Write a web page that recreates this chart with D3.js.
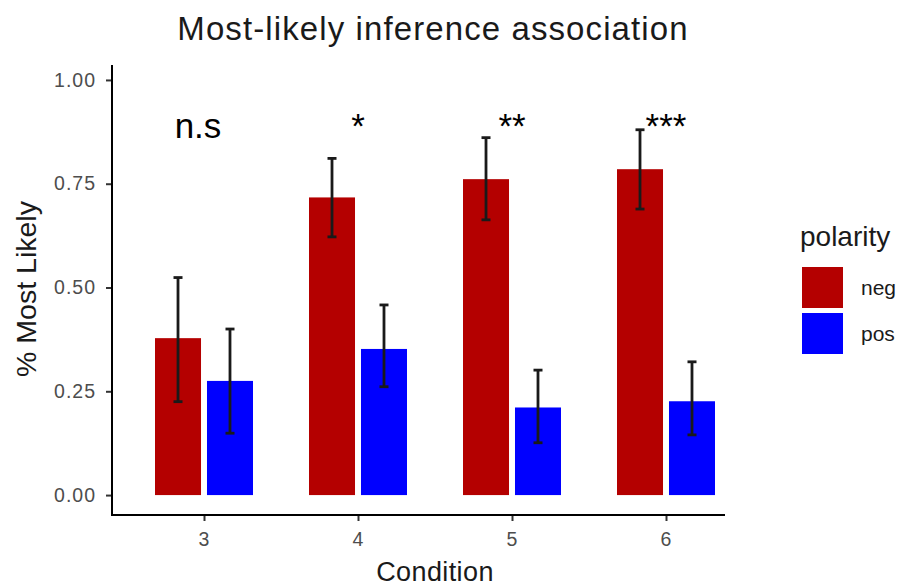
<!DOCTYPE html>
<html>
<head>
<meta charset="utf-8">
<script src="https://cdn.jsdelivr.net/npm/d3@7"></script>
<style>
  body { margin: 0; background: #fff; }
  text { font-family: "Liberation Sans", Arial, Helvetica, sans-serif; }
</style>
</head>
<body>
<div id="container"></div>
<script>
/* CONSTANTS AND GLOBALS */
const width = 904,
  height = 588,
  plot = { left: 112, right: 725, top: 65, bottom: 515 };

/* DATA */
const conditions = ["3", "4", "5", "6"];
const polarities = ["neg", "pos"];
const negMean = [0.378, 0.717, 0.761, 0.785];
const negLow = [0.225, 0.622, 0.663, 0.689];
const negHigh = [0.524, 0.811, 0.861, 0.880];
const posMean = [0.275, 0.352, 0.211, 0.226];
const posLow = [0.149, 0.261, 0.126, 0.145];
const posHigh = [0.400, 0.458, 0.301, 0.321];
const signif = ["n.s", "*", "**", "***"];
const yTicks = [0, 0.25, 0.5, 0.75, 1];

const colors = { neg: "#b40000", pos: "#0000ff" };

const rows = [];
conditions.forEach((c, i) => {
  rows.push({ condition: c, polarity: "neg", mean: negMean[i], lo: negLow[i], hi: negHigh[i] });
  rows.push({ condition: c, polarity: "pos", mean: posMean[i], lo: posLow[i], hi: posHigh[i] });
});

// APPEND SVG
const svg = d3.select("#container")
  .append("svg")
  .attr("width", width)
  .attr("height", height);

// SCALES
const x = d3.scalePoint()
  .domain(conditions)
  .range([204, 666]);

const xInner = d3.scaleBand()
  .domain(polarities)
  .range([-49, 49])
  .paddingInner(0.115);

const y = d3.scaleLinear()
  .domain([-0.048, 1.036])
  .range([plot.bottom, plot.top]);

// BARS
svg.selectAll("rect.bar")
  .data(rows)
  .join("rect")
  .attr("class", "bar")
  .attr("x", d => x(d.condition) + xInner(d.polarity))
  .attr("width", xInner.bandwidth())
  .attr("y", d => y(d.mean))
  .attr("height", d => y(0) - y(d.mean))
  .attr("fill", d => colors[d.polarity]);

// ERROR BARS
const eb = svg.selectAll("g.err")
  .data(rows)
  .join("g")
  .attr("class", "err")
  .attr("transform", d => `translate(${x(d.condition) + xInner(d.polarity) + xInner.bandwidth() / 2},0)`)
  .attr("stroke", "#1a1a1a")
  .attr("stroke-width", 2.8);

eb.append("line")
  .attr("y1", d => y(d.lo))
  .attr("y2", d => y(d.hi));
eb.append("line")
  .attr("x1", -4.5).attr("x2", 4.5)
  .attr("y1", d => y(d.hi)).attr("y2", d => y(d.hi));
eb.append("line")
  .attr("x1", -4.5).attr("x2", 4.5)
  .attr("y1", d => y(d.lo)).attr("y2", d => y(d.lo));

// SIGNIFICANCE LABELS
svg.selectAll("text.sig")
  .data(conditions)
  .join("text")
  .attr("class", "sig")
  .attr("x", (d, i) => x(d) + (i === 0 ? -6 : 0))
  .attr("y", 138)
  .attr("text-anchor", "middle")
  .attr("font-size", 35)
  .attr("fill", "#000")
  .text((d, i) => signif[i]);

// AXES
const yAxis = svg.append("g")
  .attr("transform", `translate(${plot.left},0)`)
  .call(d3.axisLeft(y).tickValues(yTicks).tickFormat(d3.format(".2f")).tickSize(6).tickPadding(10));

const xAxis = svg.append("g")
  .attr("transform", `translate(0,${plot.bottom})`)
  .call(d3.axisBottom(x).tickSize(6).tickPadding(11));

[yAxis, xAxis].forEach(a => {
  a.select(".domain").remove();
  a.selectAll(".tick line").attr("stroke", "#333").attr("stroke-width", 2);
  a.selectAll(".tick text")
    .attr("fill", "#4d4d4d")
    .attr("font-size", 19.5)
    .attr("letter-spacing", 1);
});

svg.append("line")
  .attr("x1", plot.left).attr("x2", plot.left)
  .attr("y1", plot.top).attr("y2", plot.bottom + 1)
  .attr("stroke", "#000").attr("stroke-width", 2);
svg.append("line")
  .attr("x1", plot.left - 1).attr("x2", plot.right)
  .attr("y1", plot.bottom).attr("y2", plot.bottom)
  .attr("stroke", "#000").attr("stroke-width", 2);

// TITLES
svg.append("text")
  .attr("x", 433).attr("y", 40)
  .attr("text-anchor", "middle")
  .attr("font-size", 33)
  .attr("letter-spacing", 1.1)
  .attr("fill", "#1a1a1a")
  .text("Most-likely inference association");

svg.append("text")
  .attr("x", 435).attr("y", 581)
  .attr("text-anchor", "middle")
  .attr("font-size", 27)
  .attr("letter-spacing", 0.4)
  .attr("fill", "#1a1a1a")
  .text("Condition");

svg.append("text")
  .attr("transform", "translate(36,289) rotate(-90)")
  .attr("text-anchor", "middle")
  .attr("font-size", 28.5)
  .attr("fill", "#1a1a1a")
  .text("% Most Likely");

// LEGEND
svg.append("text")
  .attr("x", 800).attr("y", 246)
  .attr("font-size", 28)
  .attr("fill", "#1a1a1a")
  .text("polarity");

const leg = svg.selectAll("g.leg")
  .data(polarities)
  .join("g")
  .attr("class", "leg")
  .attr("transform", (d, i) => `translate(802,${267 + i * 46})`);

leg.append("rect")
  .attr("width", 41).attr("height", 41)
  .attr("fill", d => colors[d]);

leg.append("text")
  .attr("x", 59).attr("y", 28)
  .attr("font-size", 21)
  .attr("fill", "#1a1a1a")
  .text(d => d);
</script>
</body>
</html>
